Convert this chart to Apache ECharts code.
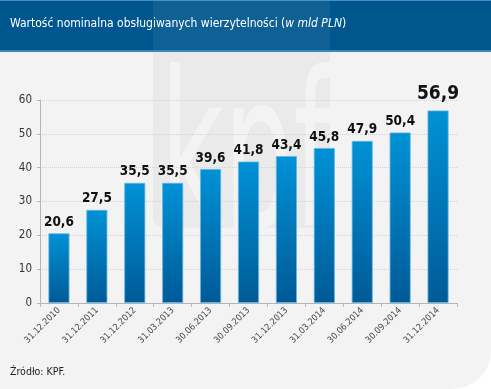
<!DOCTYPE html>
<html><head><meta charset="utf-8">
<script src="https://cdn.jsdelivr.net/npm/echarts@6/dist/echarts.min.js"></script>
<style>
html,body{margin:0;padding:0;background:#fff;}
#wrap{position:absolute;left:0;top:0;width:491px;height:389px;background:#f3f3f3;border-bottom-right-radius:38px;overflow:hidden;}
#c{width:491px;height:389px;}
</style></head>
<body><div id="wrap"><div id="c"></div></div>
<script>
var categories = ['31.12.2010','31.12.2011','31.12.2012','31.03.2013','30.06.2013','30.09.2013','31.12.2013','31.03.2014','30.06.2014','30.09.2014','31.12.2014'];
var values = [20.6, 27.5, 35.5, 35.5, 39.6, 41.8, 43.4, 45.8, 47.9, 50.4, 56.9];
var yTicks = [0, 10, 20, 30, 40, 50, 60];
var titleText = 'Wartość nominalna obsługiwanych wierzytelności (';
var titleItalic = 'w mld PLN';
var sourceText = 'Źródło: KPF.';

var F = 'DejaVu Sans Condensed';
var chart = echarts.init(document.getElementById('c'), null, {renderer:'canvas'});
var lastIdx = values.length - 1;
var data = values.map(function(v, i){
  var d = {value: v};
  if (i === lastIdx) d.label = {fontSize: 19, distance: 7};
  return d;
});
chart.setOption({
  animation: false,
  graphic: [
    {type:'rect', z:-3, shape:{x:153,y:-10,width:177,height:238,r:[0,0,10,10]}, style:{fill:'#eaeaeb'}},
    {type:'text', z:-2, x:160, y:276, scaleX:1.0, scaleY:1.75, style:{x:0, y:0, verticalAlign:'bottom', text:'kpf', fontSize:122, fontFamily:F, fill:'#f3f3f3'}},
    {type:'rect', z:10, shape:{x:0,y:0,width:491,height:50}, style:{fill:'#00578f'}},
    {type:'rect', z:11, shape:{x:153,y:0,width:177,height:50}, style:{fill:'rgba(255,255,255,0.06)'}},
    {type:'rect', z:11, shape:{x:0,y:0,width:491,height:1}, style:{fill:'#4a8fc0'}},
    {type:'rect', z:11, shape:{x:0,y:50,width:491,height:2}, style:{fill:'#3d86ba'}},
    {type:'text', z:12, left:10, top:18, style:{
      rich:{a:{fontSize:12, fontFamily:F, fill:'#ffffff'}, b:{fontSize:12, fontFamily:F, fontStyle:'italic', fill:'#ffffff'}},
      text:'{a|' + titleText + '}{b|' + titleItalic + '}{a|)}'}},
    {type:'text', z:2, left:10, top:367, style:{text:sourceText, fontSize:10.5, fontFamily:F, fill:'#222'}}
  ],
  grid: {left:40, right:34, top:100, bottom:86, containLabel:false},
  xAxis: {
    type:'category', data:categories,
    axisLine:{lineStyle:{color:'#b5b5b5'}},
    axisTick:{show:true, alignWithLabel:false, length:4, lineStyle:{color:'#b5b5b5'}},
    axisLabel:{rotate:45, fontSize:9, fontFamily:F, color:'#444', margin:6, interval:0}
  },
  yAxis: {
    type:'value', min:0, max:60, interval:10,
    axisLine:{show:true, lineStyle:{color:'#b5b5b5'}},
    axisTick:{show:true, length:3, lineStyle:{color:'#b5b5b5'}},
    axisLabel:{fontSize:11.5, fontFamily:F, color:'#333', margin:8,
      formatter:function(v){ return yTicks.indexOf(v) >= 0 ? String(v) : ''; }},
    splitLine:{lineStyle:{color:'#d2d2d2', type:'dotted'}}
  },
  series: [{
    type:'bar', data:data, barWidth:21, z:3,
    itemStyle:{
      color:new echarts.graphic.LinearGradient(0,0,0,1,[{offset:0,color:'#0092d6'},{offset:1,color:'#005a97'}]),
      borderColor:'#5fb6e6', borderWidth:0.8
    },
    label:{show:true, position:'top', distance:4, fontSize:13.5, fontWeight:'bold', fontFamily:F, color:'#111',
      formatter:function(p){ return p.value.toFixed(1).replace('.', ','); }}
  }]
});
</script></body></html>
